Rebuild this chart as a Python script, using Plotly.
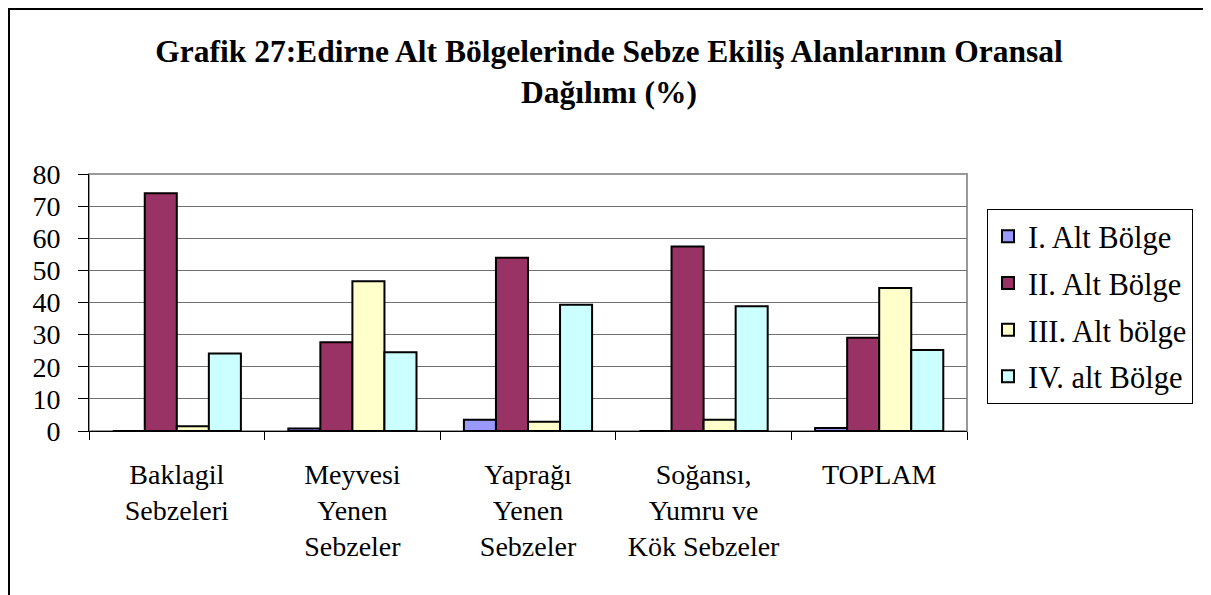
import plotly.graph_objects as go

categories = ["Baklagil<br>Sebzeleri", "Meyvesi<br>Yenen<br>Sebzeler", "Yaprağı<br>Yenen<br>Sebzeler",
              "Soğansı,<br>Yumru ve<br>Kök Sebzeler", "TOPLAM"]
series_names = ["I. Alt Bölge", "II. Alt Bölge", "III. Alt bölge", "IV. alt Bölge"]
alt1 = [0.0, 0.8, 3.5, 0.0, 0.9]
alt2 = [74.0, 27.6, 53.9, 57.4, 29.0]
alt3 = [1.5, 46.6, 2.9, 3.5, 44.5]
alt4 = [24.1, 24.5, 39.3, 38.8, 25.2]
colors = ["#9999FF", "#993366", "#FFFFCC", "#CCFFFF"]
y_ticks = [0, 10, 20, 30, 40, 50, 60, 70, 80]

FONT = "Liberation Serif, Tinos, Times New Roman, serif"

W, H = 1202, 587
L, T, PW, PH = 81, 166, 878, 257

fig = go.Figure()
for i, (name, vals) in enumerate(zip(series_names, [alt1, alt2, alt3, alt4])):
    fig.add_trace(go.Bar(
        x=categories, y=vals, name=name, legendgroup=name,
        marker=dict(color=colors[i], line=dict(color="black", width=2)),
    ))

fig.update_layout(
    width=W, height=H,
    margin=dict(l=L, r=W - L - PW, t=T, b=H - T - PH, autoexpand=False),
    paper_bgcolor="white", plot_bgcolor="white",
    barmode="group", bargap=0.27, bargroupgap=0,
    font=dict(family=FONT, color="black", size=28),
    title=dict(
        text="<b>Grafik 27:Edirne Alt Bölgelerinde Sebze Ekiliş Alanlarının Oransal<br>Dağılımı (%)</b>",
        x=0.5, xref="container", xanchor="center",
        y=1 - 54 / H, yref="container", yanchor="top",
        font=dict(family=FONT, size=31.5, color="black"),
    ),
    legend=dict(
        x=(979 - L) / PW, xanchor="left", y=(T + PH - 201) / PH, yanchor="top",
        bordercolor="black", borderwidth=1, bgcolor="white",
        font=dict(family=FONT, size=30.5, color="black"),
        tracegroupgap=4, itemwidth=30,
    ),
    showlegend=True,
)

fig.update_xaxes(
    type="category", showline=True, linecolor="black", linewidth=1,
    ticks="outside", tickson="boundaries", ticklen=8, tickcolor="black",
    tickfont=dict(family=FONT, size=28), showgrid=False,
    ticklabelstandoff=18,
)
fig.update_yaxes(
    range=[0, 80], tickvals=y_ticks, showline=True, linecolor="black", linewidth=1,
    ticks="outside", ticklen=10, tickcolor="black",
    tickfont=dict(family=FONT, size=28),
    showgrid=True, gridcolor="#707070", gridwidth=1, zeroline=False,
    ticklabelstandoff=12,
)

# plot-area border (gray) and outer chart frame
fig.add_shape(type="rect", xref="paper", yref="paper", x0=0, x1=1, y0=0, y1=1,
              line=dict(color="#999999", width=2), layer="below")
fig.add_shape(type="rect", xref="paper", yref="paper",
              x0=(1 - L) / PW, x1=(W - 1.5 - L) / PW,
              y0=-1.0, y1=(T + PH - 1) / PH,
              line=dict(color="black", width=2), layer="below")

fig.write_html("out.html")
